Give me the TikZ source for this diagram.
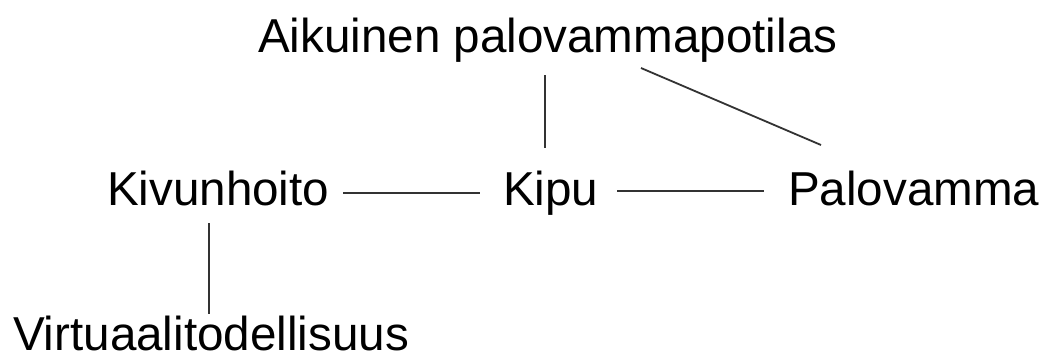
\documentclass[tikz,border=0pt]{standalone}
\usepackage{fontspec}
\setmainfont{Liberation Sans}
\begin{document}
\begin{tikzpicture}[x=1pt,y=-1pt,
  lbl/.style={anchor=base west,inner sep=0pt,outer sep=0pt,font=\fontsize{47.6}{57}\selectfont},
  conn/.style={draw=black!80,line width=1.8pt}]
\useasboundingbox[fill=white] (0,0) rectangle (1039,360);
\node[lbl] (top) at (258,52) {Aikuinen palovammapotilas};
\node[lbl] (kiv) at (107,205) {Kivunhoito};
\node[lbl] (kipu) at (503,205) {Kipu};
\node[lbl] (palo) at (788,205) {Palovamma};
\node[lbl] (virt) at (13,350) {Virtuaalitodellisuus};
% connectors
\draw[conn] ([shift={(287,23)}]top.base west) -- ([shift={(42,-57)}]kipu.base west);
\draw[conn] ([shift={(383,16)}]top.base west) -- ([shift={(33,-60)}]palo.base west);
\draw[conn] ([shift={(236,-12)}]kiv.base west) -- ([shift={(-23,-12)}]kipu.base west);
\draw[conn] ([shift={(114,-14)}]kipu.base west) -- ([shift={(-24,-14)}]palo.base west);
\draw[conn] ([shift={(102,18)}]kiv.base west) -- ([shift={(196,-36)}]virt.base west);
\end{tikzpicture}
\end{document}
